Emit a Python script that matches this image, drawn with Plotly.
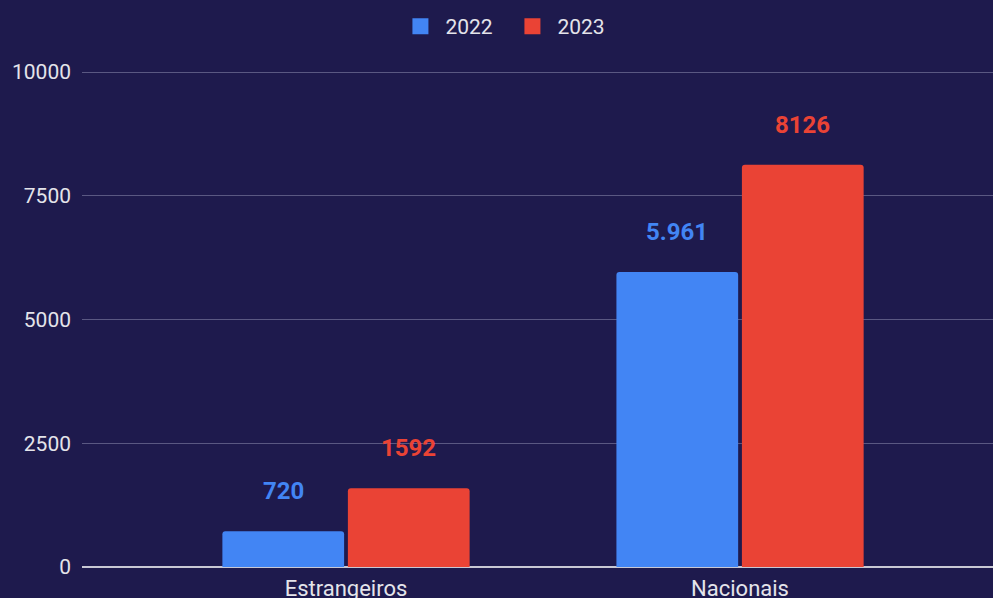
import plotly.graph_objects as go

categories = ["Estrangeiros", "Nacionais"]
values_2022 = [720, 5961]
values_2023 = [1592, 8126]
labels_2022 = ["720", "5.961"]
labels_2023 = ["1592", "8126"]
y_ticks = [0, 2500, 5000, 7500, 10000]
y_tick_text = ["0", "2500", "5000", "7500", "10000"]

BG = "#1e1a4d"
BLUE = "#4285f4"
RED = "#ea4335"
TXT = "#e4e4ea"

fig = go.Figure()
fig.add_trace(go.Bar(name="2022", x=categories, y=values_2022,
                     marker=dict(color=BLUE, cornerradius=3, line=dict(width=0)),
                     offsetgroup="a", showlegend=False))
fig.add_trace(go.Bar(name="2023", x=categories, y=values_2023,
                     marker=dict(color=RED, cornerradius=3, line=dict(width=0)),
                     offsetgroup="b", showlegend=False))
# legend swatches
for name, color in [("2022", BLUE), ("2023", RED)]:
    fig.add_trace(go.Scatter(name=name, x=[None], y=[None], mode="markers",
                             marker=dict(symbol="square", size=20, color=color), showlegend=True))

# value labels above the bars
slot = (1 - 0.363) / 2
for vals, labs, color, off in [(values_2022, labels_2022, BLUE, -slot / 2), (values_2023, labels_2023, RED, slot / 2)]:
    for i, (v, t) in enumerate(zip(vals, labs)):
        fig.add_annotation(x=i + off, y=v, text=f"<b>{t}</b>", showarrow=False, yshift=40,
                           font=dict(family="Roboto", size=24, color=color), xref="x", yref="y")

fig.update_layout(
    width=993, height=598,
    paper_bgcolor=BG, plot_bgcolor=BG,
    margin=dict(l=82, r=0, t=62, b=31),
    barmode="group", bargap=0.363, bargroupgap=0.03,
    font=dict(family="Roboto", color=TXT, size=21),
    showlegend=True,
    legend=dict(orientation="h", xref="container", x=0.511, xanchor="center", yref="container", y=0.99,
                yanchor="top", font=dict(size=21, color=TXT), itemwidth=40, traceorder="normal",
                entrywidth=57, entrywidthmode="pixels"),
    xaxis=dict(type="category", range=[-0.67, 1.642], showgrid=False, showline=False, automargin=False,
               tickfont=dict(size=22, color=TXT), ticklabelstandoff=6, fixedrange=True),
    yaxis=dict(range=[0, 10000 * 505 / 495], tickvals=y_ticks, ticktext=y_tick_text, showgrid=True,
               gridcolor="#5a5882", gridwidth=1, automargin=False,
               zeroline=True, zerolinecolor="#c8c8d4", zerolinewidth=2, showline=False,
               tickfont=dict(size=21, color=TXT), ticklabelstandoff=10, fixedrange=True),
)

fig.write_html("out.html", config={"displayModeBar": False},
               post_script="document.body.style.margin='0';document.body.style.background='%s';" % BG)
